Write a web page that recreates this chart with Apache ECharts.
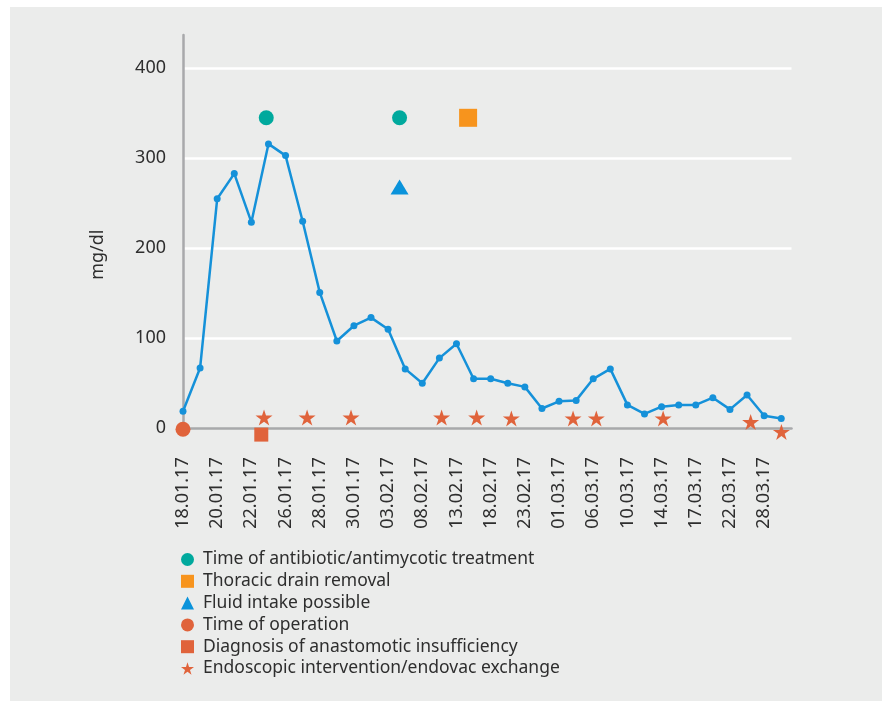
<!DOCTYPE html>
<html>
<head>
<meta charset="utf-8">
<script src="https://cdn.jsdelivr.net/npm/echarts@6/dist/echarts.min.js"></script>
<style>
  html, body { margin: 0; padding: 0; background: #ffffff; }
  #panel { position: absolute; left: 10px; top: 7px; width: 872px; height: 694px; background: #ebeceb; }
  #chart { position: absolute; left: 0; top: 0; width: 882px; height: 701px; }
</style>
</head>
<body>
<div id="panel"></div>
<div id="chart"></div>
<script>
// Tick labels (one for every second measurement)
const tickLabels = ['18.01.17','20.01.17','22.01.17','26.01.17','28.01.17','30.01.17','03.02.17','08.02.17','13.02.17','18.02.17','23.02.17','01.03.17','06.03.17','10.03.17','14.03.17','17.03.17','22.03.17','28.03.17'];
// CRP values (mg/dl), one per measurement
const crpValues = [19, 67, 255, 283, 229, 316, 303, 230, 151, 97, 114, 123, 110, 66, 50, 78, 94, 55, 55, 50, 46, 22, 30, 31, 55, 66, 26, 16, 24, 26, 26, 34, 21, 37, 14, 11];

// Event markers: position along measurement index, and plotted height
const antibioticX = [4.87, 12.67];
const antibioticY = [345, 345];
const drainX = [16.68];
const drainY = [345];
const fluidX = [12.67];
const fluidY = [268];
const operationX = [0];
const operationY = [-1];
const diagnosisX = [4.58];
const diagnosisY = [-7];
const endoX = [4.74, 7.26, 9.83, 15.13, 17.18, 19.21, 22.82, 24.18, 28.09, 33.21, 35.01];
const endoY = [12, 12, 12, 12, 12, 11, 11, 11, 11, 7, -4];

const names = ['Time of antibiotic/antimycotic treatment','Thoracic drain removal','Fluid intake possible','Time of operation','Diagnosis of anastomotic insufficiency','Endoscopic intervention/endovac exchange'];

const zip = (xs, ys) => xs.map((x, i) => [x, ys[i]]);
const starPath = 'path://M50,0L61.2,34.5L97.6,34.5L68.2,55.9L79.4,90.5L50,69.1L20.6,90.5L31.8,55.9L2.4,34.5L38.8,34.5Z';
const FONT = 'Noto Sans';
const RED = '#e0633b';

const chart = echarts.init(document.getElementById('chart'));
chart.setOption({
  animation: false,
  textStyle: { fontFamily: FONT },
  grid: { left: 183, right: 90.5, top: 35, bottom: 272.7, containLabel: false },
  legend: {
    orient: 'vertical', left: 176, top: 544,
    itemWidth: 13, itemHeight: 13, itemGap: 0.8,
    data: names,
    textStyle: { fontFamily: FONT, fontSize: 17.5, color: '#2e2e2e', lineHeight: 21, padding: [0, 0, 0, 4] }
  },
  xAxis: {
    type: 'value', min: 0, max: 35.6, interval: 2,
    axisLine: { show: true, lineStyle: { color: '#a8a9ab', width: 2.5 } },
    axisTick: { show: false },
    splitLine: { show: false },
    axisLabel: {
      rotate: 90, margin: 29, fontSize: 18, color: '#2e2e2e', fontFamily: FONT,
      showMaxLabel: false,
      formatter: v => (Math.abs(v - Math.round(v)) < 1e-6 && Math.round(v) % 2 === 0 && tickLabels[Math.round(v) / 2]) ? tickLabels[Math.round(v) / 2] : ''
    }
  },
  yAxis: {
    type: 'value', min: 0, max: 437, interval: 100,
    name: 'mg/dl', nameLocation: 'middle', nameGap: 76,
    nameTextStyle: { fontSize: 18, color: '#2e2e2e', fontFamily: FONT, padding: [0, 46, 0, 0] },
    axisLine: { show: true, lineStyle: { color: '#a8a9ab', width: 2.5 } },
    axisTick: { show: false },
    axisLabel: { fontSize: 18, color: '#2e2e2e', margin: 17, fontFamily: FONT, showMaxLabel: false },
    splitLine: { show: true, showMinLine: false, showMaxLine: false, lineStyle: { color: '#ffffff', width: 2.5 } }
  },
  series: [
    {
      name: 'CRP', type: 'line', data: crpValues.map((v, i) => [i, v]),
      symbol: 'circle', symbolSize: 7, showSymbol: true,
      lineStyle: { color: '#1591d9', width: 2.5 },
      itemStyle: { color: '#1591d9', opacity: 1 }, z: 3
    },
    { name: names[0], type: 'scatter', data: zip(antibioticX, antibioticY), symbol: 'circle', symbolSize: 15, itemStyle: { color: '#00a99d', opacity: 1 }, clip: false, z: 4 },
    { name: names[1], type: 'scatter', data: zip(drainX, drainY), symbol: 'rect', symbolSize: 18, itemStyle: { color: '#f7941d', opacity: 1 }, clip: false, z: 4 },
    { name: names[2], type: 'scatter', data: zip(fluidX, fluidY), symbol: 'triangle', symbolSize: [18, 15], itemStyle: { color: '#0a93db', opacity: 1 }, clip: false, z: 4 },
    { name: names[3], type: 'scatter', data: zip(operationX, operationY), symbol: 'circle', symbolSize: 15, itemStyle: { color: RED, opacity: 1 }, clip: false, z: 5 },
    { name: names[4], type: 'scatter', data: zip(diagnosisX, diagnosisY), symbol: 'rect', symbolSize: 14, itemStyle: { color: RED, opacity: 1 }, clip: false, z: 5 },
    { name: names[5], type: 'scatter', data: zip(endoX, endoY), symbol: starPath, symbolSize: [17, 16], itemStyle: { color: RED, opacity: 1 }, clip: false, z: 5 }
  ]
});
</script>
</body>
</html>
